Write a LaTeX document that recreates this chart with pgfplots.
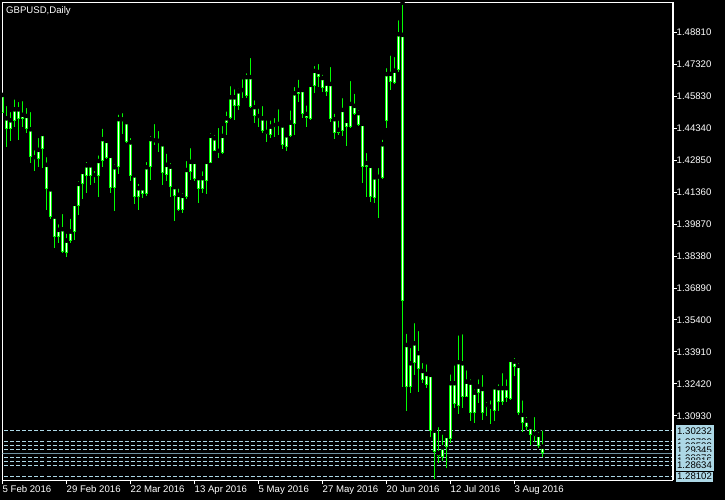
\documentclass[border=0pt]{standalone}
\usepackage{fontspec}
\setmainfont{Liberation Sans}
\usepackage{pgfplots}
\pgfplotsset{compat=1.18}
\usepackage{pgfplotstable}
\definecolor{cgreen}{RGB}{0,255,0}
\definecolor{lblue}{RGB}{173,216,230}
\definecolor{lgray}{RGB}{112,146,160}

\pgfplotstableread{
k hi bt bb lo
0 1.4589 1.4589 1.4505 1.4505
1 1.4547 1.4480 1.4429 1.4348
2 1.4519 1.4471 1.4429 1.4376
3 1.4578 1.4522 1.4469 1.4441
4 1.4566 1.4522 1.4476 1.4379
5 1.4570 1.4496 1.4476 1.4441
6 1.4538 1.4491 1.4429 1.4413
7 1.4519 1.4429 1.4302 1.4274
8 1.4341 1.4299 1.4289 1.4236
9 1.4398 1.4333 1.4289 1.4252
10 1.4413 1.4407 1.4336 1.4247
11 1.4309 1.4263 1.4149 1.4053
12 1.4159 1.4149 1.4019 1.4010
13 1.4030 1.4022 1.3926 1.3877
14 1.3996 1.3960 1.3926 1.3900
15 1.4044 1.3963 1.3858 1.3854
16 1.3952 1.3910 1.3854 1.3835
17 1.4022 1.3952 1.3910 1.3900
18 1.4092 1.4081 1.3952 1.3913
19 1.4197 1.4174 1.4072 1.4030
20 1.4247 1.4230 1.4173 1.4104
21 1.4286 1.4261 1.4213 1.4134
22 1.4275 1.4261 1.4213 1.4169
23 1.4244 1.4216 1.4211 1.4177
24 1.4317 1.4281 1.4213 1.4114
25 1.4441 1.4383 1.4283 1.4252
26 1.4392 1.4375 1.4297 1.4289
27 1.4309 1.4305 1.4154 1.4134
28 1.4275 1.4252 1.4154 1.4050
29 1.4507 1.4476 1.4252 1.4220
30 1.4514 1.4476 1.4469 1.4407
31 1.4468 1.4462 1.4368 1.4366
32 1.4398 1.4368 1.4213 1.4190
33 1.4228 1.4214 1.4114 1.4081
34 1.4185 1.4154 1.4114 1.4053
35 1.4162 1.4154 1.4126 1.4107
36 1.4286 1.4252 1.4128 1.4118
37 1.4407 1.4383 1.4252 1.4193
38 1.4463 1.4378 1.4373 1.4356
39 1.4431 1.4375 1.4364 1.4325
40 1.4375 1.4359 1.4226 1.4169
41 1.4325 1.4263 1.4216 1.4190
42 1.4281 1.4255 1.4159 1.4114
43 1.4174 1.4159 1.4120 1.4003
44 1.4162 1.4123 1.4053 1.4050
45 1.4141 1.4118 1.4053 1.4040
46 1.4291 1.4239 1.4114 1.4106
47 1.4351 1.4277 1.4231 1.4193
48 1.4286 1.4277 1.4196 1.4190
49 1.4211 1.4201 1.4149 1.4087
50 1.4243 1.4201 1.4149 1.4131
51 1.4289 1.4277 1.4190 1.4128
52 1.4421 1.4398 1.4274 1.4271
53 1.4411 1.4387 1.4329 1.4328
54 1.4445 1.4329 1.4322 1.4297
55 1.4454 1.4398 1.4320 1.4314
56 1.4522 1.4480 1.4457 1.4403
57 1.4640 1.4578 1.4480 1.4476
58 1.4625 1.4578 1.4539 1.4472
59 1.4628 1.4606 1.4539 1.4519
60 1.4672 1.4612 1.4604 1.4574
61 1.4700 1.4672 1.4584 1.4574
62 1.4771 1.4672 1.4535 1.4530
63 1.4574 1.4532 1.4491 1.4460
64 1.4535 1.4491 1.4483 1.4439
65 1.4547 1.4480 1.4419 1.4413
66 1.4480 1.4417 1.4407 1.4371
67 1.4480 1.4441 1.4403 1.4390
68 1.4491 1.4449 1.4441 1.4395
69 1.4532 1.4454 1.4447 1.4403
70 1.4457 1.4447 1.4356 1.4336
71 1.4413 1.4401 1.4348 1.4328
72 1.4527 1.4460 1.4399 1.4395
73 1.4636 1.4597 1.4454 1.4403
74 1.4670 1.4612 1.4594 1.4558
75 1.4625 1.4612 1.4500 1.4480
76 1.4550 1.4500 1.4480 1.4439
77 1.4646 1.4636 1.4476 1.4472
78 1.4734 1.4701 1.4631 1.4597
79 1.4743 1.4696 1.4672 1.4628
80 1.4693 1.4668 1.4620 1.4604
81 1.4648 1.4642 1.4604 1.4584
82 1.4729 1.4640 1.4477 1.4465
83 1.4511 1.4476 1.4413 1.4384
84 1.4479 1.4426 1.4413 1.4403
85 1.4584 1.4519 1.4421 1.4398
86 1.4488 1.4468 1.4439 1.4351
87 1.4664 1.4547 1.4439 1.4434
88 1.4604 1.4538 1.4500 1.4496
89 1.4527 1.4504 1.4449 1.4445
90 1.4472 1.4454 1.4252 1.4180
91 1.4328 1.4271 1.4255 1.4114
92 1.4263 1.4258 1.4112 1.4092
93 1.4220 1.4205 1.4107 1.4087
94 1.4258 1.4208 1.4201 1.4014
95 1.4390 1.4359 1.4201 1.4196
96 1.4724 1.4686 1.4468 1.4434
97 1.4783 1.4687 1.4651 1.4612
98 1.4776 1.4702 1.4645 1.4640
99 1.4947 1.4872 1.4706 1.4698
100 1.5019 1.4869 1.3630 1.3229
101 1.3485 1.3423 1.3226 1.3117
102 1.3419 1.3338 1.3226 1.3201
103 1.3535 1.3431 1.3338 1.3284
104 1.3498 1.3385 1.3310 1.3206
105 1.3349 1.3302 1.3260 1.3245
106 1.3343 1.3288 1.3237 1.3224
107 1.3294 1.3284 1.3024 1.2996
108 1.3027 1.3024 1.2926 1.2799
109 1.3050 1.2919 1.2906 1.2875
110 1.3016 1.2946 1.2903 1.2883
111 1.3015 1.2999 1.2946 1.2849
112 1.3296 1.3245 1.2984 1.2968
113 1.3338 1.3245 1.3147 1.3128
114 1.3478 1.3343 1.3139 1.3102
115 1.3483 1.3338 1.3182 1.3128
116 1.3315 1.3252 1.3182 1.3182
117 1.3273 1.3248 1.3105 1.3071
118 1.3226 1.3201 1.3108 1.3061
119 1.3273 1.3229 1.3198 1.3152
120 1.3293 1.3218 1.3108 1.3074
121 1.3167 1.3144 1.3136 1.3092
122 1.3175 1.3136 1.3128 1.3055
123 1.3237 1.3226 1.3117 1.3071
124 1.3250 1.3222 1.3159 1.3117
125 1.3302 1.3222 1.3159 1.3144
126 1.3273 1.3222 1.3175 1.3159
127 1.3369 1.3354 1.3170 1.3167
128 1.3372 1.3346 1.3322 1.3279
129 1.3349 1.3326 1.3105 1.3097
130 1.3175 1.3097 1.3061 1.3019
131 1.3097 1.3071 1.3040 1.3027
132 1.3050 1.3040 1.3004 1.2957
133 1.3097 1.3009 1.2999 1.2973
134 1.3027 1.3004 1.2953 1.2942
135 1.3035 1.2949 1.2919 1.2903
}\candles

\newcommand{\chfont}{\fontsize{9.6}{11}\selectfont}

\begin{document}
\begin{tikzpicture}[x=1pt,y=1pt]
\fill[black] (0,0) rectangle (725,500);
\useasboundingbox (0,0) rectangle (725,500);
\begin{axis}[
  at={(2.5pt,19.5pt)}, anchor=south west, scale only axis,
  width=670pt, height=478pt,
  xmin=0, xmax=167.5, ymin=1.27917, ymax=1.50203,
  clip mode=individual,
  axis line style={white, line width=1pt},
  tick style={white, line width=1pt},
  major tick length=4pt,
  tick align=outside,
  xtick pos=bottom, ytick pos=right,
  yticklabel pos=right,
  xtick={0,16,32,48,64,80,96,112,128},
  xticklabels={5 Feb 2016, 29 Feb 2016, 22 Mar 2016, 13 Apr 2016, 5 May 2016, 27 May 2016, 20 Jun 2016, 12 Jul 2016, 3 Aug 2016},
  ytick={1.48810,1.47320,1.45830,1.44340,1.42850,1.41360,1.39870,1.38380,1.36890,1.35400,1.33910,1.32420,1.30930},
  scaled y ticks=false,
  yticklabel style={/pgf/number format/.cd, fixed, fixed zerofill, precision=5, assume math mode=true, /tikz/.cd, text=white, font=\chfont, anchor=west, inner sep=0pt},
  xticklabel style={text=white, font=\chfont, anchor=north west, inner sep=0pt, yshift=-1pt},
]
% horizontal level lines
\addplot[lblue, line width=1pt, dash pattern=on 4pt off 2pt] coordinates {(-1,1.30232) (170,1.30232)};
\addplot[lblue, line width=1pt, dash pattern=on 4pt off 2pt] coordinates {(-1,1.29720) (170,1.29720)};
\addplot[lblue, line width=1pt, dash pattern=on 4pt off 2pt] coordinates {(-1,1.29533) (170,1.29533)};
\addplot[lblue, line width=1pt, dash pattern=on 4pt off 2pt] coordinates {(-1,1.29345) (170,1.29345)};
\addplot[lgray, line width=1.3pt] coordinates {(-1,1.29160) (170,1.29160)};
\addplot[lblue, line width=1pt, dash pattern=on 4pt off 2pt] coordinates {(-1,1.28970) (170,1.28970)};
\addplot[lblue, line width=1pt, dash pattern=on 4pt off 2pt] coordinates {(-1,1.28815) (170,1.28815)};
\addplot[lblue, line width=1pt, dash pattern=on 4pt off 2pt] coordinates {(-1,1.28634) (170,1.28634)};
\addplot[lblue, line width=1pt, dash pattern=on 4pt off 2pt] coordinates {(-1,1.28102) (170,1.28102)};
% wicks
\addplot[only marks, mark=none, error bars/.cd, y dir=minus, y explicit, error mark=none,
  error bar style={draw=cgreen, line width=1pt}]
  table[x=k, y=hi, y error minus expr=\thisrow{hi}-\thisrow{lo}] {\candles};
% bodies (outline)
\addplot[only marks, mark=none, error bars/.cd, y dir=minus, y explicit, error mark=none,
  error bar style={draw=cgreen, line width=3pt}]
  table[x=k, y=bt, y error minus expr=\thisrow{bt}-\thisrow{bb}] {\candles};
% bodies (white interior)
\addplot[only marks, mark=none, restrict expr to domain={\thisrow{bt}-\thisrow{bb}}{0.0011:1},
  error bars/.cd, y dir=minus, y explicit, error mark=none,
  error bar style={draw=white, line width=1pt, shorten >=1pt, shorten <=1pt}]
  table[x=k, y=bt, y error minus expr=\thisrow{bt}-\thisrow{bb}] {\candles};
\draw[white, line width=2pt] (rel axis cs:1,0) -- (rel axis cs:1,1);
% price labels
\tikzset{lbox/.style={fill=lblue, text=black, font=\chfont, minimum width=38pt, minimum height=11pt, inner sep=0pt}}
\node[lbox] at ([xshift=22pt]axis cs:167.5,1.30232) {1.30232};
\node[lbox] at ([xshift=22pt]axis cs:167.5,1.29720) {1.29720};
\node[lbox] at ([xshift=22pt]axis cs:167.5,1.29533) {1.29533};
\node[lbox] at ([xshift=22pt]axis cs:167.5,1.29345) {1.29345};
\node[lbox] at ([xshift=22pt]axis cs:167.5,1.28970) {1.28970};
\node[lbox] at ([xshift=22pt]axis cs:167.5,1.28815) {1.28815};
\node[lbox] at ([xshift=22pt]axis cs:167.5,1.28634) {1.28634};
\node[lbox, draw=black, line width=0.8pt] at ([xshift=22pt]axis cs:167.5,1.28102) {1.28102};
\end{axis}
\node[anchor=north west, text=white, inner sep=0pt, font=\chfont] at (6,493.3) {GBPUSD,Daily};
\end{tikzpicture}
\end{document}
